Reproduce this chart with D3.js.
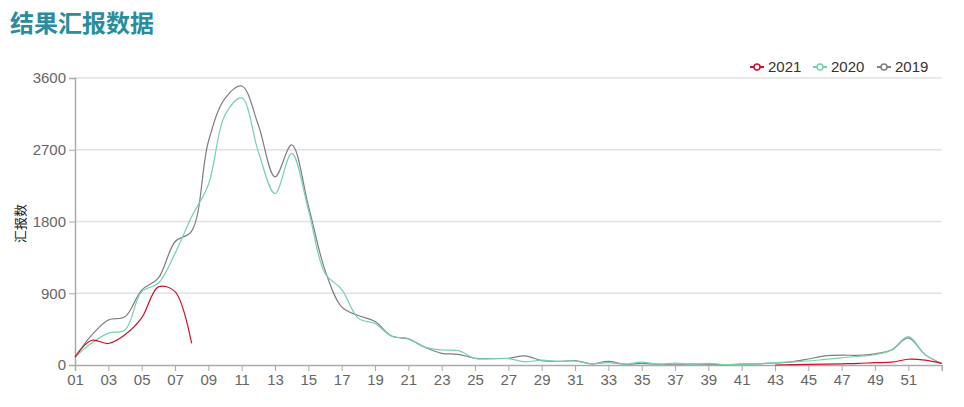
<!DOCTYPE html>
<html>
<head>
<meta charset="utf-8">
<script src="https://cdn.jsdelivr.net/npm/d3@7"></script>
<style>
  body { margin: 0; background: #fff; font-family: "Noto Sans CJK SC", "Noto Sans", sans-serif; }
</style>
</head>
<body>
<div id="chart"></div>
<script>
// week categories 01..53
const weeks = d3.range(1, 54).map(w => String(w).padStart(2, "0"));
const xTickLabels = weeks.filter((w, i) => i % 2 === 0 && i < 52);
const yTicks = [0, 900, 1800, 2700, 3600];
const seriesNames = ["2021", "2020", "2019"];

// weekly values, null = no report
const values2021 = [100, 310, 270, 380, 590, 980, 920, 270,
    null, null, null, null, null, null, null, null, null, null, null, null,
    null, null, null, null, null, null, null, null, null, null, null, null,
    null, null, null, null, null, null, null, null, null, null,
    0, 5, 8, 10, 15, 20, 30, 35, 72, 60, 20];
const values2020 = [100, 275, 400, 440, 920, 1025, 1400, 1860, 2260, 3135,
    3350, 2675, 2150, 2655, 1950, 1150, 950, 585, 520, 360,
    330, 225, 188, 180, 84, 80, 80, 40, 60, 45,
    50, 15, 30, 10, 35, 10, 25, 10, 20, 5,
    10, 15, 30, 40, 50, 70, 90, 110, 130, 190,
    355, 130, 15];
const values2019 = [100, 375, 565, 605, 940, 1090, 1546, 1680, 2800, 3345,
    3500, 3010, 2360, 2760, 2000, 1190, 730, 620, 545, 363,
    326, 222, 146, 134, 84, 80, 85, 115, 55, 45,
    55, 15, 45, 10, 20, 10, 10, 10, 10, 5,
    10, 15, 25, 40, 75, 115, 125, 120, 140, 190,
    340, 130, 20];

const colors = { "2021": "#d0112b", "2020": "#75d2a8", "2019": "#7f7f7f" };
const seriesData = { "2021": values2021, "2020": values2020, "2019": values2019 };

const width = 964, height = 407;
const margin = { top: 78, right: 22, bottom: 42, left: 75 };
const numFont = "'Liberation Sans', Arial, sans-serif";

const svg = d3.select("#chart").append("svg")
    .attr("width", width)
    .attr("height", height);

// title
svg.append("text")
    .attr("x", 10)
    .attr("y", 32)
    .attr("fill", "#2a8c9c")
    .style("font-size", "24px")
    .style("font-weight", "bold")
    .text("结果汇报数据");

const x = d3.scalePoint()
    .domain(weeks)
    .range([margin.left, width - margin.right - 0.3]);

const y = d3.scaleLinear()
    .domain([0, 3600])
    .range([height - margin.bottom, margin.top]);

// grid lines
svg.append("g")
    .selectAll("line")
    .data(yTicks.slice(1))
    .enter().append("line")
    .attr("x1", margin.left)
    .attr("x2", x(weeks[weeks.length - 1]))
    .attr("y1", d => y(d))
    .attr("y2", d => y(d))
    .attr("stroke", "#e2e2e2")
    .attr("stroke-width", 1.5);

// y axis
const yAxis = svg.append("g")
    .attr("transform", `translate(${margin.left},0)`)
    .call(d3.axisLeft(y).tickValues(yTicks).tickFormat(d3.format("d")).tickSize(6).tickPadding(3));
yAxis.select(".domain").attr("stroke", "#aaa").attr("stroke-width", 1.5);
yAxis.selectAll(".tick line").attr("stroke", "#aaa");
yAxis.selectAll("text").attr("fill", "#666").style("font-size", "15px")
    .style("font-family", numFont);

// x axis
const xAxis = svg.append("g")
    .attr("transform", `translate(0,${y(0)})`)
    .call(d3.axisBottom(x).tickValues(xTickLabels).tickSize(6).tickPadding(3));
xAxis.select(".domain").attr("stroke", "#aaa").attr("stroke-width", 1.5);
xAxis.selectAll(".tick line").attr("stroke", "#aaa");
xAxis.selectAll("text").attr("fill", "#666").style("font-size", "15px")
    .style("font-family", numFont);

// y axis name
svg.append("text")
    .attr("transform", `translate(25,${(y(0) + y(3600)) / 2 + 2}) rotate(-90)`)
    .attr("text-anchor", "middle")
    .attr("fill", "#222")
    .style("font-size", "13px")
    .text("汇报数");

// lines
const line = d3.line()
    .defined(d => d.v !== null)
    .x(d => x(d.w))
    .y(d => y(d.v))
    .curve(d3.curveCatmullRom.alpha(0.5));

["2019", "2020", "2021"].forEach(name => {
    const pts = weeks.map((w, i) => ({ w: w, v: seriesData[name][i] }));
    svg.append("path")
        .datum(pts)
        .attr("fill", "none")
        .attr("stroke", colors[name])
        .attr("stroke-width", 1.2)
        .attr("d", line);
});

// legend
const legendX = [750, 813, 877];
const legend = svg.selectAll(".legend")
    .data(seriesNames)
    .enter().append("g")
    .attr("class", "legend")
    .attr("transform", (d, i) => `translate(${legendX[i]},67)`);

legend.append("line")
    .attr("x1", 0).attr("x2", 14)
    .attr("stroke", d => colors[d])
    .attr("stroke-width", 2);
legend.append("circle")
    .attr("cx", 7).attr("r", 3)
    .attr("fill", "#fff")
    .attr("stroke", d => colors[d])
    .attr("stroke-width", 1.5);
legend.append("text")
    .attr("x", 18)
    .attr("dy", "0.35em")
    .attr("fill", "#333")
    .style("font-size", "15px")
    .style("font-family", numFont)
    .text(d => d);
</script>
</body>
</html>
